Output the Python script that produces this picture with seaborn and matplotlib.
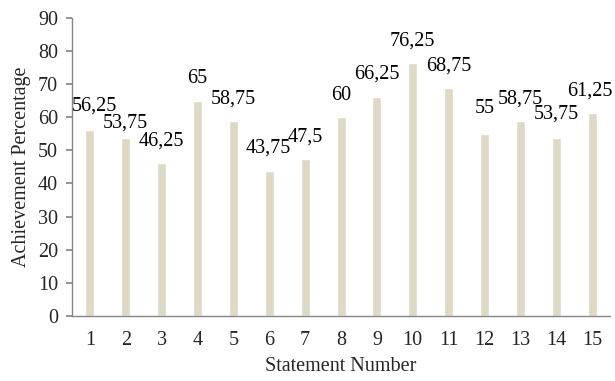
import matplotlib
matplotlib.use("Agg")
import matplotlib.pyplot as plt
import seaborn as sns
import pandas as pd

statements = [str(i) for i in range(1, 16)]
values = [56.25, 53.75, 46.25, 65, 58.75, 43.75, 47.5, 60, 66.25, 76.25, 68.75, 55, 58.75, 53.75, 61.25]
labels = ["56,25", "53,75", "46,25", "65", "58,75", "43,75", "47,5", "60", "66,25", "76,25", "68,75", "55", "58,75", "53,75", "61,25"]

# label placement nudges (points), mimicking the reference's automatic placement
label_dx = [3.5, 0, 0, 0, 0, -1, 0, 0, 0, 0, 0, 0, 0, 0, -1.5]
label_dy = [10, 4, 9, 9, 9, 10, 9, 9, 9, 9, 9, 11, 9, 10, 9]

sns.set_theme(style="white")
plt.rcParams['font.family'] = ['Liberation Serif', 'DejaVu Serif']

FS = 14.5
df = pd.DataFrame({"Statement": statements, "Value": values})
fig = plt.figure(figsize=(6.15, 3.81), dpi=100)
ax = fig.add_axes([0.117, 0.171, 0.875, 0.782])
sns.barplot(data=df, x="Statement", y="Value", color="#DDD9C4", width=0.25,
            saturation=1, ax=ax)
for i, (v, lab) in enumerate(zip(values, labels)):
    ax.annotate(lab, xy=(i, v), xytext=(label_dx[i], label_dy[i]),
                textcoords="offset points", ha="center", va="bottom",
                fontsize=FS, color="black", annotation_clip=False)

ax.set_ylim(0, 90)
ax.set_xlim(-0.5, 14.5)
ax.set_yticks(range(0, 91, 10))
ax.tick_params(axis="y", length=4, color="#868686", labelsize=FS, left=True, pad=6)
ax.tick_params(axis="x", length=0, labelsize=FS, pad=11)
for s in ["top", "right"]:
    ax.spines[s].set_visible(False)
for s in ["left", "bottom"]:
    ax.spines[s].set_color("#868686")
    ax.spines[s].set_linewidth(1)
ax.set_xlabel("Statement Number", fontsize=FS, labelpad=5)
ax.set_ylabel("Achievement Percentage", fontsize=FS, labelpad=5)
fig.savefig("out.png", dpi=100)
